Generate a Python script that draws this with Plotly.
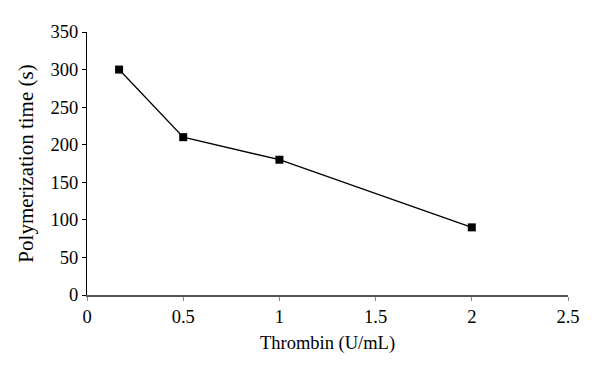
import plotly.graph_objects as go

thrombin = [1/6, 0.5, 1, 2]
poly_time = [300, 210, 180, 90]
x_ticks = [0, 0.5, 1, 1.5, 2, 2.5]
x_labels = ["0", "0.5", "1", "1.5", "2", "2.5"]
y_ticks = [0, 50, 100, 150, 200, 250, 300, 350]

font = dict(family="Liberation Serif, Times New Roman, serif", size=18.5, color="black")

fig = go.Figure(go.Scatter(
    x=thrombin, y=poly_time, mode="lines+markers",
    line=dict(color="black", width=1.3),
    marker=dict(symbol="square", size=8, color="black"),
    showlegend=False,
))

fig.update_layout(
    width=600, height=375,
    margin=dict(l=79, r=40, t=24, b=88),
    paper_bgcolor="white", plot_bgcolor="white",
    font=font,
)
fig.update_xaxes(
    range=[0, 2.5], tickvals=x_ticks, ticktext=x_labels, automargin=False,
    showgrid=False, zeroline=False, showline=True, linecolor="#555555", linewidth=2,
    ticks="outside", ticklen=4, tickcolor="#888888", tickwidth=1,
    title=dict(text="Thrombin (U/mL)", standoff=10, font=dict(size=18.5)), tickfont=font,
)
fig.update_yaxes(
    range=[0, 350], tickvals=y_ticks, automargin=False,
    showgrid=False, zeroline=False, showline=True, linecolor="black", linewidth=1,
    ticks="outside", ticklen=4, tickcolor="black", tickwidth=1,
    title=dict(text="Polymerization time (s)", standoff=11, font=dict(size=21)), tickfont=font,
)

fig.write_html("out.html")
